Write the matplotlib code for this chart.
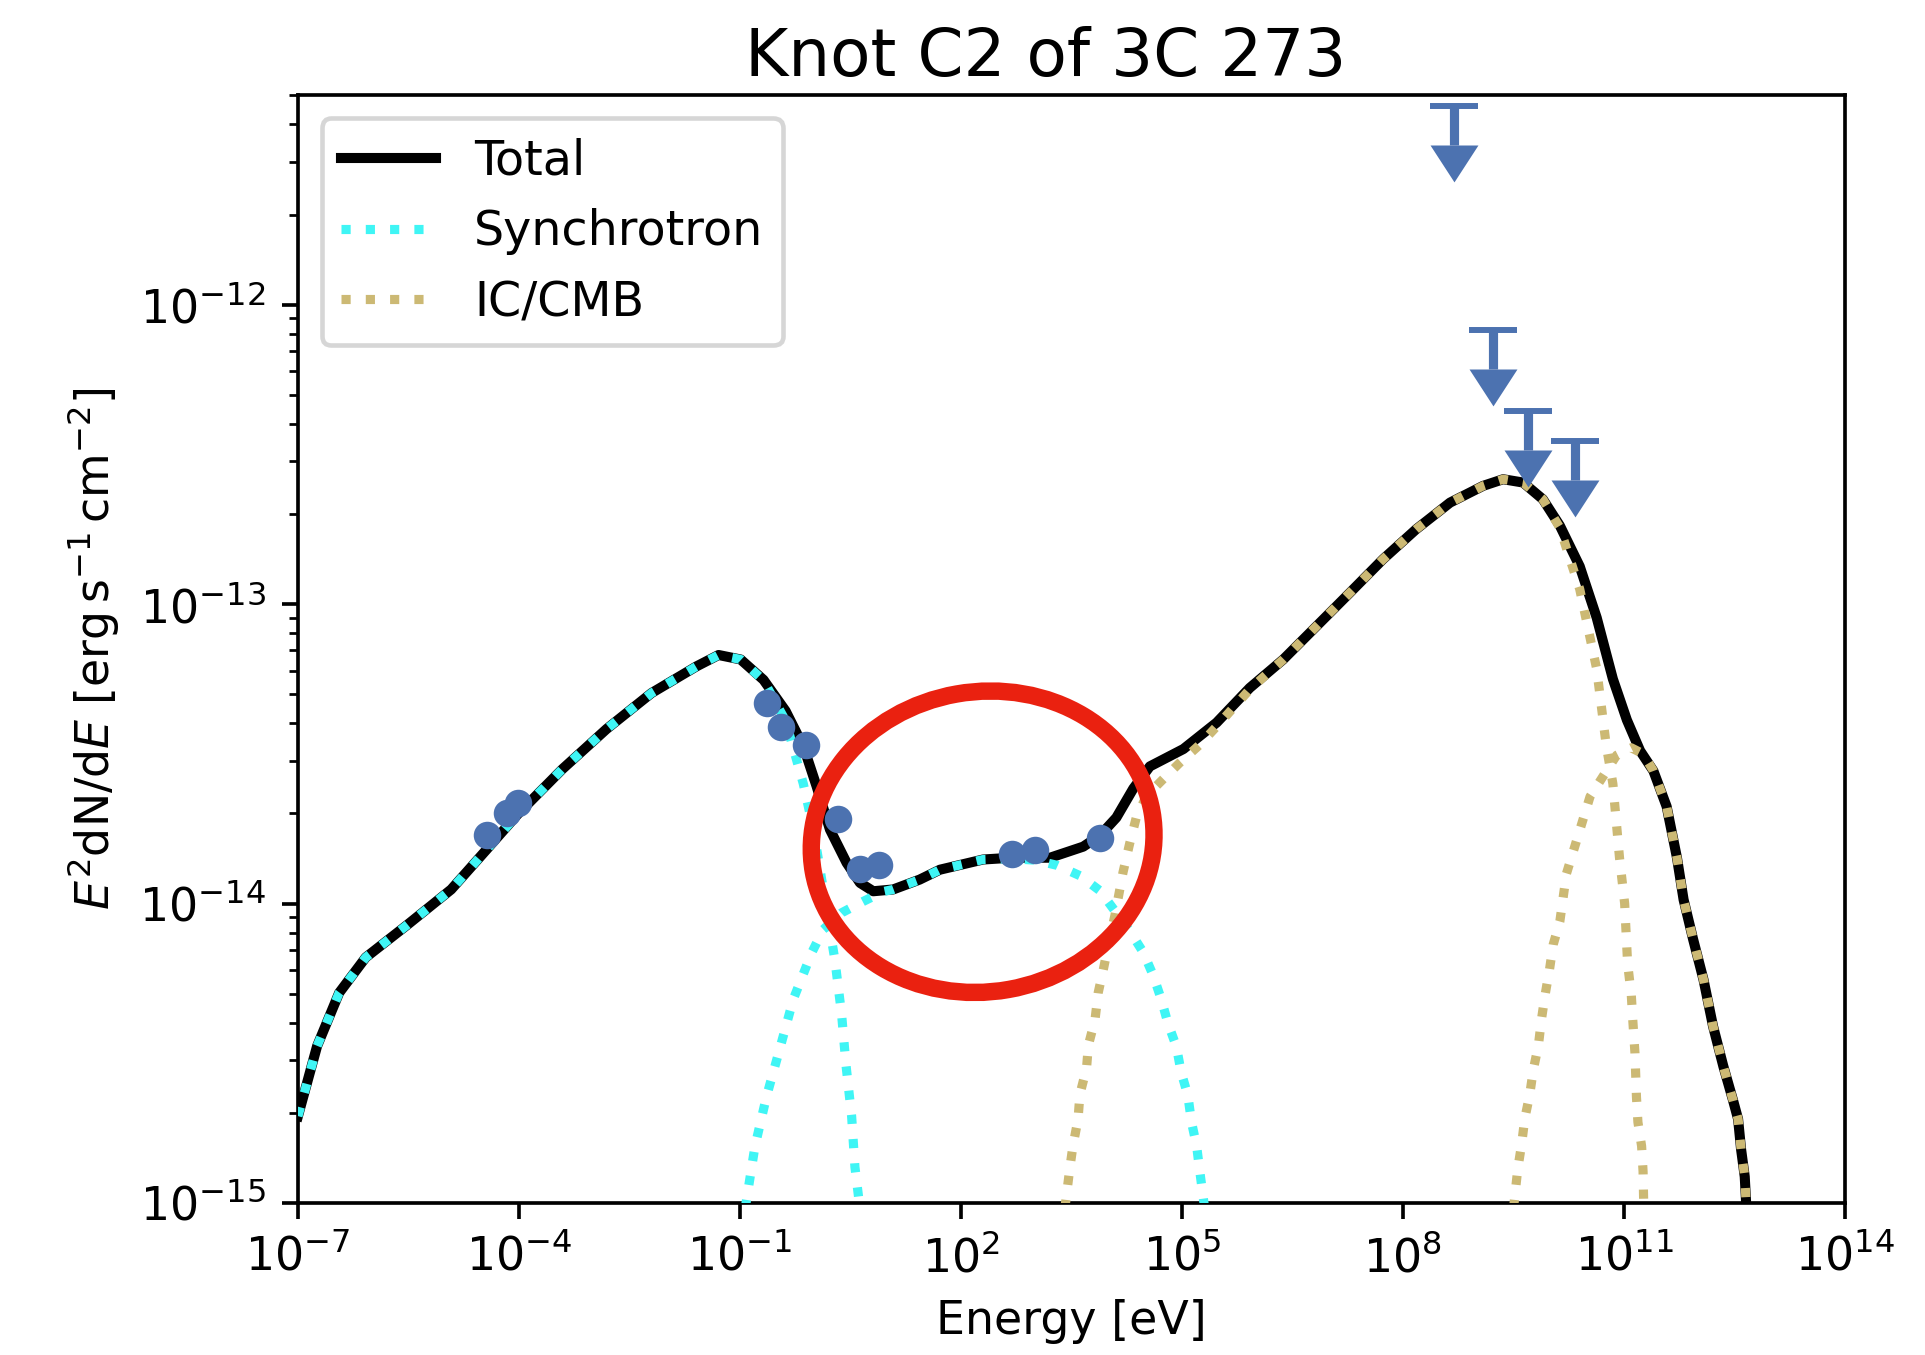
import numpy as np
import matplotlib
matplotlib.use("Agg")
import matplotlib.pyplot as plt
from matplotlib.patches import Ellipse
from matplotlib.transforms import ScaledTranslation
from matplotlib.ticker import NullLocator

# curves, stored as log10(E/eV) and log10(E^2 dN/dE)
total_logE = [-7.0, -6.74, -6.44, -6.08, -5.53, -4.92, -4.44, -4.01, -3.41, -2.81, -2.2, -1.59, -1.29, -0.99,
              -0.68, -0.38, -0.137, 0.04, 0.222, 0.448, 0.63, 0.81, 1.08, 1.44, 1.715, 2.3, 2.69, 3.21, 3.66,
              3.886, 4.11, 4.34, 4.565, 5.02, 5.47, 5.92, 6.375, 6.83, 7.28, 7.73, 8.18, 8.64, 9.09, 9.36,
              9.63, 9.9, 10.13, 10.4, 10.63, 10.85, 11.04, 11.22, 11.4, 11.58, 11.72, 11.81, 11.94, 12.08,
              12.21, 12.35, 12.48, 12.55, 12.59, 12.64, 12.67]
total_logF = [-14.71, -14.476, -14.298, -14.18, -14.074, -13.953, -13.82, -13.7, -13.551, -13.417, -13.297,
              -13.208, -13.17, -13.185, -13.253, -13.357, -13.476, -13.608, -13.753, -13.864, -13.931, -13.959,
              -13.953, -13.92, -13.887, -13.853, -13.847, -13.847, -13.81, -13.773, -13.713, -13.616, -13.542,
              -13.484, -13.396, -13.28, -13.185, -13.073, -12.962, -12.85, -12.75, -12.661, -12.605, -12.583,
              -12.594, -12.65, -12.738, -12.874, -13.045, -13.25, -13.387, -13.49, -13.557, -13.676, -13.847,
              -13.987, -14.12, -14.254, -14.41, -14.544, -14.656, -14.72, -14.82, -14.912, -15.05]

sync1_logE = [-7.0, -6.74, -6.44, -6.08, -5.53, -4.92, -4.44, -4.01, -3.41, -2.81, -2.2, -1.59, -1.29, -0.99,
              -0.68, -0.38, -0.14, -0.05, 0.05, 0.15, 0.29, 0.38, 0.44, 0.516, 0.561, 0.63]
sync1_logF = [-14.71, -14.476, -14.298, -14.18, -14.074, -13.953, -13.82, -13.7, -13.551, -13.417, -13.297,
              -13.208, -13.17, -13.185, -13.255, -13.39, -13.6, -13.7, -13.83, -13.98, -14.19, -14.37, -14.54,
              -14.71, -14.88, -15.02]

sync2_logE = [-0.93, -0.797, -0.64, -0.457, -0.276, -0.027, 0.13, 0.38, 0.673, 0.945, 1.08, 1.44, 1.715, 2.3,
              2.69, 3.0, 3.3, 3.615, 3.886, 4.29, 4.475, 4.61, 4.72, 4.81, 4.925, 4.99, 5.08, 5.13, 5.2, 5.24, 5.31]
sync2_logF = [-15.02, -14.812, -14.645, -14.483, -14.32, -14.165, -14.087, -14.031, -13.993, -13.96, -13.953,
              -13.92, -13.887, -13.853, -13.85, -13.855, -13.872, -13.907, -13.957, -14.091, -14.163, -14.24,
              -14.32, -14.4, -14.478, -14.564, -14.64, -14.73, -14.81, -14.89, -15.02]

ic1_logE = [3.41, 3.48, 3.52, 3.59, 3.615, 3.705, 3.73, 3.82, 3.864, 3.93, 4.0, 4.09, 4.2, 4.29, 4.38, 4.52,
            4.74, 4.97, 5.24, 5.47, 5.92, 6.375, 6.83, 7.28, 7.73, 8.18, 8.64, 9.09, 9.36, 9.63, 9.9, 10.13,
            10.4, 10.63, 10.76, 10.85, 10.94, 11.01, 11.05, 11.1, 11.12, 11.15, 11.17, 11.19, 11.24, 11.26, 11.27]
ic1_logF = [-15.02, -14.88, -14.81, -14.72, -14.637, -14.55, -14.473, -14.388, -14.297, -14.224, -14.14, -14.04,
            -13.896, -13.8, -13.713, -13.64, -13.586, -13.53, -13.47, -13.409, -13.285, -13.185, -13.073, -12.962,
            -12.85, -12.75, -12.661, -12.605, -12.583, -12.594, -12.65, -12.745, -12.95, -13.216, -13.472, -13.6,
            -13.847, -14.0, -14.2, -14.305, -14.388, -14.5, -14.645, -14.73, -14.81, -14.895, -15.02]

ic2_logE = [9.5, 9.56, 9.61, 9.655, 9.72, 9.77, 9.84, 9.88, 9.93, 9.99, 10.04, 10.13, 10.22, 10.54, 10.9, 11.1,
            11.26, 11.4, 11.58, 11.72, 11.81, 11.94, 12.08, 12.21, 12.35, 12.48, 12.55, 12.59, 12.64, 12.67]
ic2_logF = [-15.02, -14.884, -14.806, -14.717, -14.64, -14.555, -14.472, -14.388, -14.305, -14.22, -14.137,
            -14.06, -13.9, -13.643, -13.505, -13.48, -13.5, -13.557, -13.676, -13.847, -13.987, -14.12, -14.254,
            -14.41, -14.544, -14.656, -14.72, -14.82, -14.912, -15.05]

# measured points
data_E = [10**-4.44, 10**-4.167, 10**-4.015, 10**-0.634, 10**-0.444, 10**-0.098,
          10**0.334, 10**0.628, 10**0.892, 10**2.688, 10**3.004, 10**3.886]
data_F = [1.69e-14, 2.01e-14, 2.17e-14, 4.66e-14, 3.89e-14, 3.39e-14,
          1.91e-14, 1.30e-14, 1.34e-14, 1.46e-14, 1.51e-14, 1.66e-14]

# upper limits
ul_E = [10**8.69, 10**9.22, 10**9.70, 10**10.33]
ul_F = [4.6e-12, 8.2e-13, 4.4e-13, 3.5e-13]

x_ticks = [10.0**k for k in range(-7, 15, 3)]
y_ticks = [1e-15, 1e-14, 1e-13, 1e-12]

blue = "#4C72B0"
tan = "#CCB974"
cyan = "#3ff5f5"

plt.rcParams["font.size"] = 10
fig = plt.figure(figsize=(1926 / 330, 1355 / 330), dpi=330)
ax = fig.add_axes([0.1547, 0.1122, 0.8032, 0.8180])

def curve(le, lf):
    return 10.0 ** np.array(le), 10.0 ** np.array(lf)

ax.plot(*curve(total_logE, total_logF), color="black", lw=2.2, label="Total", zorder=2)
ax.plot(*curve(sync1_logE, sync1_logF), color=cyan, ls=":", lw=2.0, label="Synchrotron", zorder=3)
ax.plot(*curve(sync2_logE, sync2_logF), color=cyan, ls=":", lw=2.0, zorder=3)
ax.plot(*curve(ic1_logE, ic1_logF), color=tan, ls=":", lw=2.0, label="IC/CMB", zorder=3)
ax.plot(*curve(ic2_logE, ic2_logF), color=tan, ls=":", lw=2.0, zorder=3)

ax.plot(data_E, data_F, ls="none", marker="o", ms=5, color=blue, zorder=4)

# upper limit arrows: cap at the value, bar, filled arrow head below
ul_F = np.array(ul_F)
base = ul_F * 10**-0.13
ax.vlines(ul_E, base, ul_F, color=blue, lw=2.0, zorder=4)
ax.plot(ul_E, ul_F, ls="none", marker="_", ms=10.5, mew=1.3, color=blue, zorder=4)
arrow = [(-1, 0), (1, 0), (0, -1.54)]
ax.plot(ul_E, base, ls="none", marker=arrow, ms=16.1, color=blue, mew=0, zorder=4)

ax.set_xscale("log")
ax.set_yscale("log")
ax.set_xlim(1e-7, 1e14)
ax.set_ylim(1e-15, 5.03e-12)
ax.set_xticks(x_ticks)
ax.set_yticks(y_ticks)
ax.xaxis.set_minor_locator(NullLocator())

ax.set_xlabel("Energy [eV]")
ax.set_ylabel(r"$E^2$dN/d$E$ [erg$\,$s$^{-1}\,$cm$^{-2}$]")
ax.set_title("Knot C2 of 3C 273", fontsize=14.4, pad=4, x=0.483)
ax.legend(loc="upper left", fontsize=10.4)

# red hand-drawn ring around the middle dip
ring_pos = ScaledTranslation(0.4426, 0.3259, ax.transAxes)
ring = Ellipse((0, 0), 344 / 330, 300 / 330, angle=10, fill=False, ec="#ea2110", lw=3.8,
               transform=fig.dpi_scale_trans + ring_pos, zorder=6, clip_on=False)
ax.add_patch(ring)

fig.savefig("out.png", dpi=330)
